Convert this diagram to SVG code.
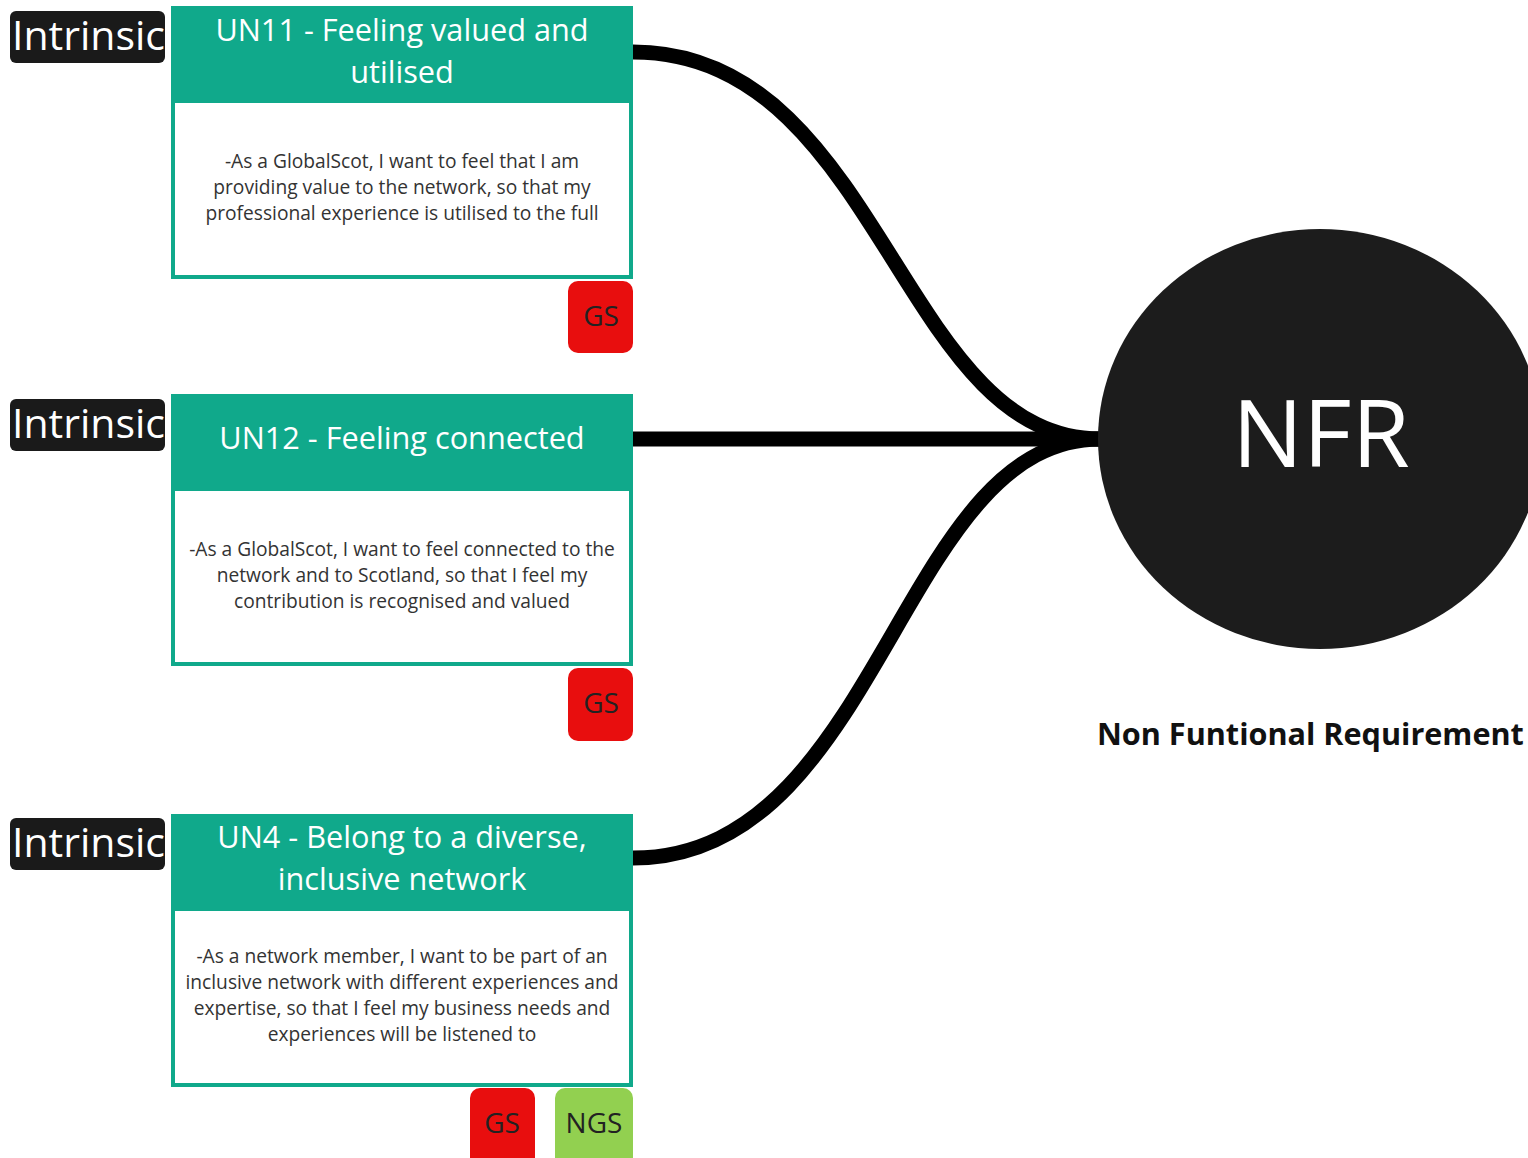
<svg xmlns="http://www.w3.org/2000/svg" width="1528" height="1158" viewBox="0 0 1528 1158">
<style>
text{font-family:"Open Sans","Liberation Sans",sans-serif}
.tag rect{fill:#1a1a1a}
.tag text{fill:#fff;font-size:41px}
.card .outer{fill:#10a98b}
.card .inner{fill:#fff}
.card .title{fill:#fff;font-size:30.7px;text-anchor:middle}
.card .body{fill:#333;font-size:19.2px;text-anchor:middle}
.gs{fill:#e80e0e}
.ngs{fill:#92d050}
.badge{fill:#222;font-size:28px;text-anchor:middle}
.conn{fill:none;stroke:#000;stroke-width:15}
</style>
<rect width="1528" height="1158" fill="#fff"/>
<g id="connectors">
<path class="conn" d="M633,52 C880,52 900,439 1100,439"/>
<path class="conn" d="M633,439 L1100,439"/>
<path class="conn" d="M633,858 C880,858 900,439 1100,439"/>
</g>
<g id="nfr">
<ellipse cx="1320" cy="439" rx="222" ry="210" fill="#1c1c1c"/>
<text x="1321" y="467" fill="#fff" font-size="94" text-anchor="middle">NFR</text>
<text x="1097" y="745" fill="#111" font-size="30.6" font-weight="bold">Non Funtional Requirement</text>
</g>
<g id="tag1" class="tag"><rect x="10" y="11" width="155" height="52" rx="6"/><text x="12" y="50">Intrinsic</text></g>
<g id="tag2" class="tag"><rect x="10" y="399" width="155" height="52" rx="6"/><text x="12" y="438">Intrinsic</text></g>
<g id="tag3" class="tag"><rect x="10" y="818" width="155" height="52" rx="6"/><text x="12" y="857">Intrinsic</text></g>
<g id="un11" class="card">
<rect class="outer" x="171" y="6" width="462" height="273"/>
<rect class="inner" x="175" y="103" width="454" height="172"/>
<text class="title" x="402" y="41">UN11 - Feeling valued and</text>
<text class="title" x="402" y="83">utilised</text>
<text class="body" x="402" y="168">-As a GlobalScot, I want to feel that I am</text>
<text class="body" x="402" y="194">providing value to the network, so that my</text>
<text class="body" x="402" y="220">professional experience is utilised to the full</text>
</g>
<g id="un11-gs"><rect class="gs" x="568" y="281" width="65" height="72" rx="10"/><text class="badge" x="601" y="326">GS</text></g>
<g id="un12" class="card">
<rect class="outer" x="171" y="394" width="462" height="272"/>
<rect class="inner" x="175" y="491" width="454" height="171"/>
<text class="title" x="402" y="449">UN12 - Feeling connected</text>
<text class="body" x="402" y="556">-As a GlobalScot, I want to feel connected to the</text>
<text class="body" x="402" y="582">network and to Scotland, so that I feel my</text>
<text class="body" x="402" y="608">contribution is recognised and valued</text>
</g>
<g id="un12-gs"><rect class="gs" x="568" y="668" width="65" height="73" rx="10"/><text class="badge" x="601" y="713">GS</text></g>
<g id="un4" class="card">
<rect class="outer" x="171" y="814" width="462" height="273"/>
<rect class="inner" x="175" y="911" width="454" height="172"/>
<text class="title" x="402" y="848">UN4 - Belong to a diverse,</text>
<text class="title" x="402" y="890">inclusive network</text>
<text class="body" x="402" y="963">-As a network member, I want to be part of an</text>
<text class="body" x="402" y="989">inclusive network with different experiences and</text>
<text class="body" x="402" y="1015">expertise, so that I feel my business needs and</text>
<text class="body" x="402" y="1041">experiences will be listened to</text>
</g>
<g id="un4-gs"><rect class="gs" x="470" y="1088" width="65" height="80" rx="10"/><text class="badge" x="502" y="1133">GS</text></g>
<g id="un4-ngs"><rect class="ngs" x="555" y="1088" width="78" height="80" rx="10"/><text class="badge" x="594" y="1133">NGS</text></g>
</svg>
